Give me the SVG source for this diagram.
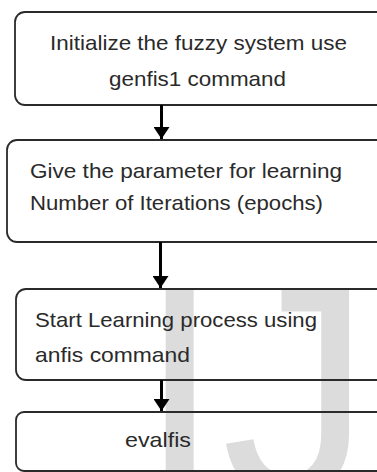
<svg xmlns="http://www.w3.org/2000/svg" width="377" height="472" viewBox="0 0 377 472">
  <defs>
    <style>
      .box { fill: none; stroke: #2a2a2a; stroke-width: 1.8; }
      .lbl { font-family: "Liberation Sans", Arial, sans-serif; font-size: 21px; fill: #2a2a2a; }
      .wire { stroke: #000; stroke-width: 3; fill: none; }
      .mark { font-family: "Liberation Sans", Arial, sans-serif; font-size: 300px; fill: #dcdcdc; }
    </style>
    <!-- arrowhead drawn along +x so orient="auto" points it down the line -->
    <marker id="head" viewBox="0 0 12 16" refX="12" refY="8" markerWidth="12" markerHeight="16" markerUnits="userSpaceOnUse" orient="auto">
      <path d="M0,0 L12,8 L0,16 Z" fill="#000"/>
    </marker>
  </defs>
  <rect width="377" height="472" fill="#fff"/>

  <!-- background watermark -->
  <text class="mark" x="138" y="495">IJ</text>

  <g id="n1">
    <rect class="box" x="15" y="12" width="372" height="93" rx="10"/>
    <text class="lbl" x="50" y="50" textLength="297" lengthAdjust="spacingAndGlyphs">Initialize the fuzzy system use</text>
    <text class="lbl" x="109" y="86" textLength="177" lengthAdjust="spacingAndGlyphs">genfis1 command</text>
  </g>

  <g id="n2">
    <rect class="box" x="7" y="140" width="380" height="102" rx="10"/>
    <text class="lbl" x="30" y="178" textLength="312" lengthAdjust="spacingAndGlyphs">Give the parameter for learning</text>
    <text class="lbl" x="30" y="210" textLength="293" lengthAdjust="spacingAndGlyphs">Number of Iterations (epochs)</text>
  </g>

  <g id="n3">
    <rect class="box" x="16" y="289" width="371" height="91" rx="10"/>
    <text class="lbl" x="35" y="327" textLength="282" lengthAdjust="spacingAndGlyphs">Start Learning process using</text>
    <text class="lbl" x="35" y="362" textLength="155" lengthAdjust="spacingAndGlyphs">anfis command</text>
  </g>

  <g id="n4">
    <rect class="box" x="16" y="412" width="371" height="59" rx="8"/>
    <text class="lbl" x="125" y="447" textLength="66" lengthAdjust="spacingAndGlyphs">evalfis</text>
  </g>

  <g id="connectors">
    <line class="wire" x1="161.5" y1="105" x2="161.5" y2="139" marker-end="url(#head)"/>
    <line class="wire" x1="160.5" y1="242" x2="160.5" y2="288" marker-end="url(#head)"/>
    <line class="wire" x1="161.5" y1="380" x2="161.5" y2="411" marker-end="url(#head)"/>
  </g>
</svg>
